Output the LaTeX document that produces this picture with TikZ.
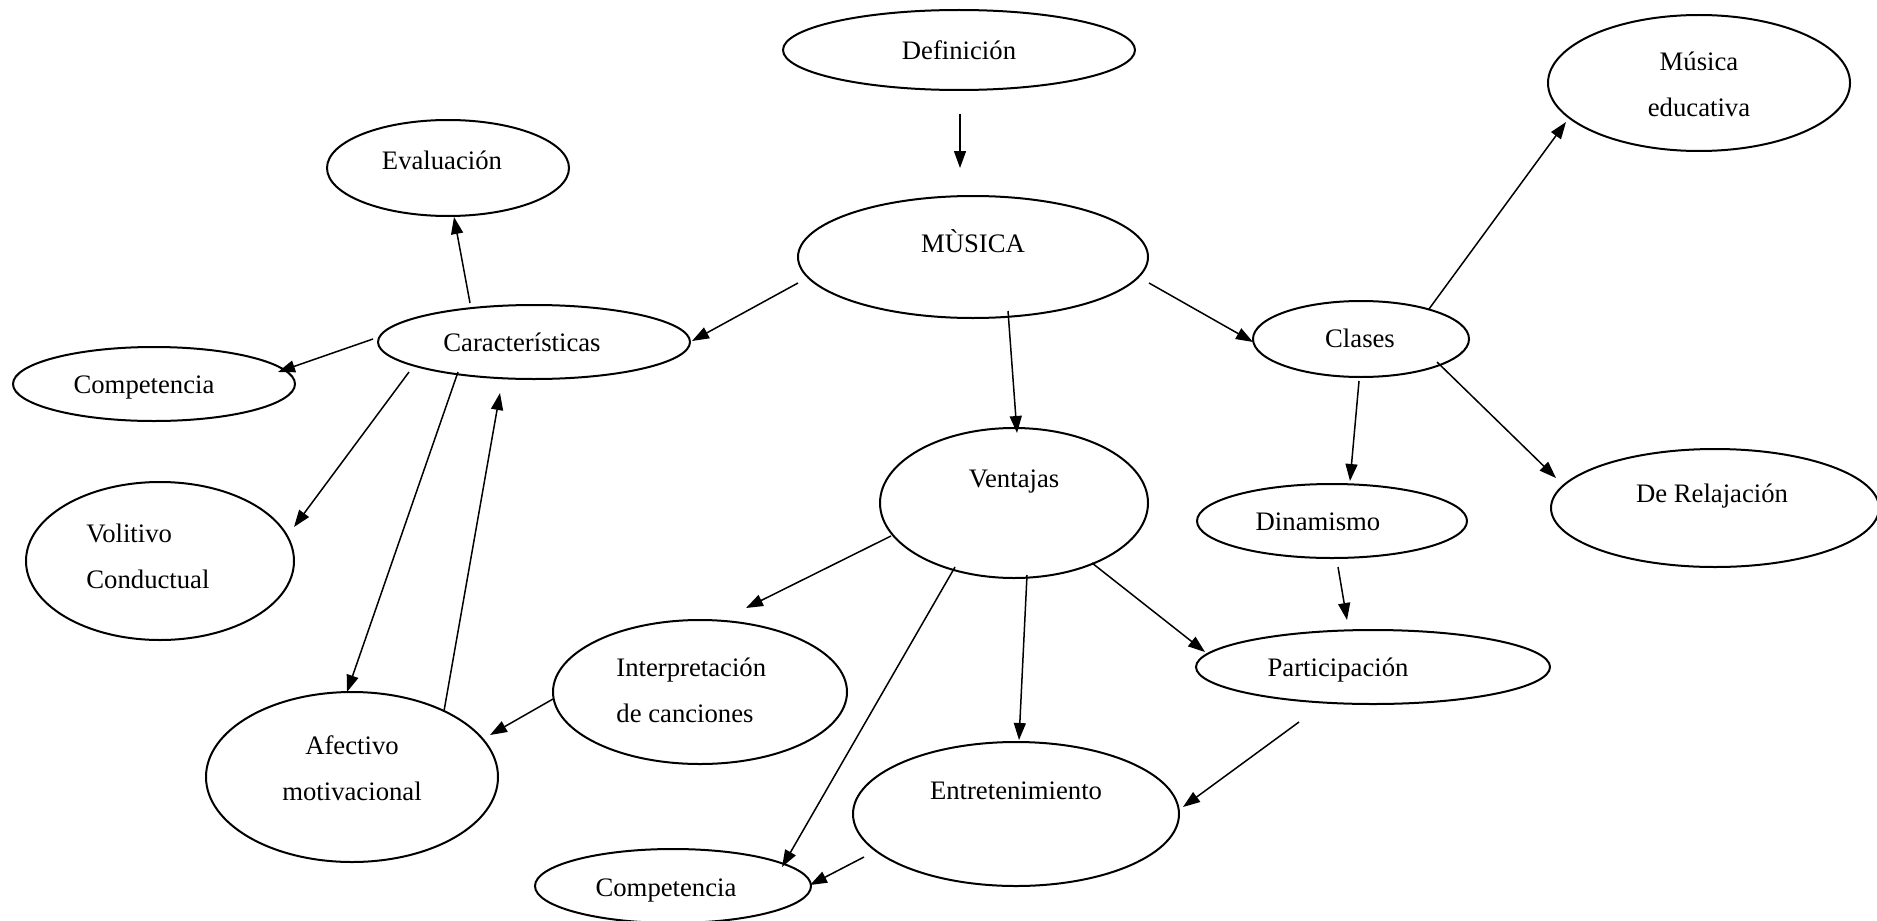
\documentclass[tikz,border=0pt]{standalone}
\usepackage{fontspec}
\setmainfont{Liberation Serif}
\usetikzlibrary{shapes.geometric,arrows.meta,calc}
\tikzset{
  bub/.style={draw, ellipse, line width=1pt, inner sep=0pt},
  txt/.style={font=\fontsize{13.35}{23}\selectfont, inner sep=0pt, align=center},
  one/.style={txt, text height=9pt, text depth=3pt, yshift=-1.8pt},
  arr/.style={line width=0.75pt, -{Triangle[length=8.5pt,width=6pt]}}
}
\newcommand{\bubble}[5]{\node[bub, minimum width=#4pt, minimum height=#5pt] (#1) at (#2,#3) {};}
\begin{document}
\begin{tikzpicture}[x=0.5pt,y=-0.5pt]
\useasboundingbox (0,0) rectangle (1877,920);
\fill[white] (0,0) rectangle (1877,920);
% ellipses
\bubble{def}{959}{50}{176}{40}
\bubble{mus}{973}{257}{175}{61}
\bubble{eva}{448}{168}{121}{48}
\bubble{car}{534}{342}{156}{37}
\bubble{comA}{154}{384}{141}{37}
\bubble{vol}{160}{561}{134}{79}
\bubble{afe}{352}{777}{146}{85}
\bubble{int}{700}{692}{147}{72}
\bubble{comB}{673}{886}{138}{37}
\bubble{ent}{1016}{814}{163}{72}
\bubble{ven}{1014}{503}{134}{75}
\bubble{par}{1373}{667}{177}{37}
\bubble{din}{1332}{521}{135}{37}
\bubble{cla}{1361}{339}{108}{38}
\bubble{mue}{1699}{83}{151}{68}
\bubble{rel}{1715}{508}{164}{59}
% texts
\node[one] (tdef) at (959,50) {Definición};
\node[one] (tmus) at (973,243) {MÙSICA};
\node[one] (teva) at (442,160) {Evaluación};
\node[one] (tcar) at (522,342) {Características};
\node[one] (tcomA) at (144,384) {Competencia};
\node[txt, align=left, anchor=west] (tvol) at (86,556) {Volitivo\\Conductual};
\node[txt] (tafe) at (352,768) {Afectivo\\motivacional};
\node[txt, align=left, anchor=west] (tint) at (616,690) {Interpretación\\de canciones};
\node[one] (tcomB) at (666,887) {Competencia};
\node[one] (tent) at (1016,790) {Entretenimiento};
\node[one] (tven) at (1014,478) {Ventajas};
\node[one] (tpar) at (1338,667) {Participación};
\node[one] (tdin) at (1318,521) {Dinamismo};
\node[one] (tcla) at (1360,338) {Clases};
\node[txt] (tmue) at (1699,84) {Música\\educativa};
\node[one] (trel) at (1712,493) {De Relajación};
% connectors
\draw[arr] ($(def)+(1,64)$) -- ($(mus)+(-13,-89)$);
\draw[arr] ($(mus)+(-175,26)$) -- ($(car)+(158,-1)$);
\draw[arr] ($(mus)+(176,26)$) -- ($(cla)+(-108,3)$);
\draw[arr] ($(mus)+(35,54)$) -- ($(ven)+(3,-70)$);
\draw[arr] ($(car)+(-64,-39)$) -- ($(eva)+(6,49)$);
\draw[arr] ($(car)+(-161,-3)$) -- ($(comA)+(124,-12)$);
\draw[arr] ($(car)+(-125,30)$) -- ($(vol)+(134,-34)$);
\draw[arr] ($(car)+(-76,30)$) -- ($(afe)+(-5,-85)$);
\draw[arr] ($(afe)+(92,-66)$) -- ($(car)+(-34,51)$);
\draw[arr] ($(int)+(-147,7)$) -- ($(afe)+(138,-42)$);
\draw[arr] ($(ven)+(-123,33)$) -- ($(int)+(46,-84)$);
\draw[arr] ($(ven)+(-59,64)$) -- ($(comB)+(109,-19)$);
\draw[arr] ($(ven)+(13,72)$) -- ($(ent)+(3,-74)$);
\draw[arr] ($(ven)+(78,60)$) -- ($(par)+(-168,-15)$);
\draw[arr] ($(ent)+(-152,43)$) -- ($(comB)+(137,-1)$);
\draw[arr] ($(par)+(-74,55)$) -- ($(ent)+(167,-7)$);
\draw[arr] ($(cla)+(-2,42)$) -- ($(din)+(18,-40)$);
\draw[arr] ($(din)+(6,46)$) -- ($(par)+(-26,-47)$);
\draw[arr] ($(cla)+(68,-30)$) -- ($(mue)+(-133,39)$);
\draw[arr] ($(cla)+(76,23)$) -- ($(rel)+(-159,-30)$);
\end{tikzpicture}
\end{document}
